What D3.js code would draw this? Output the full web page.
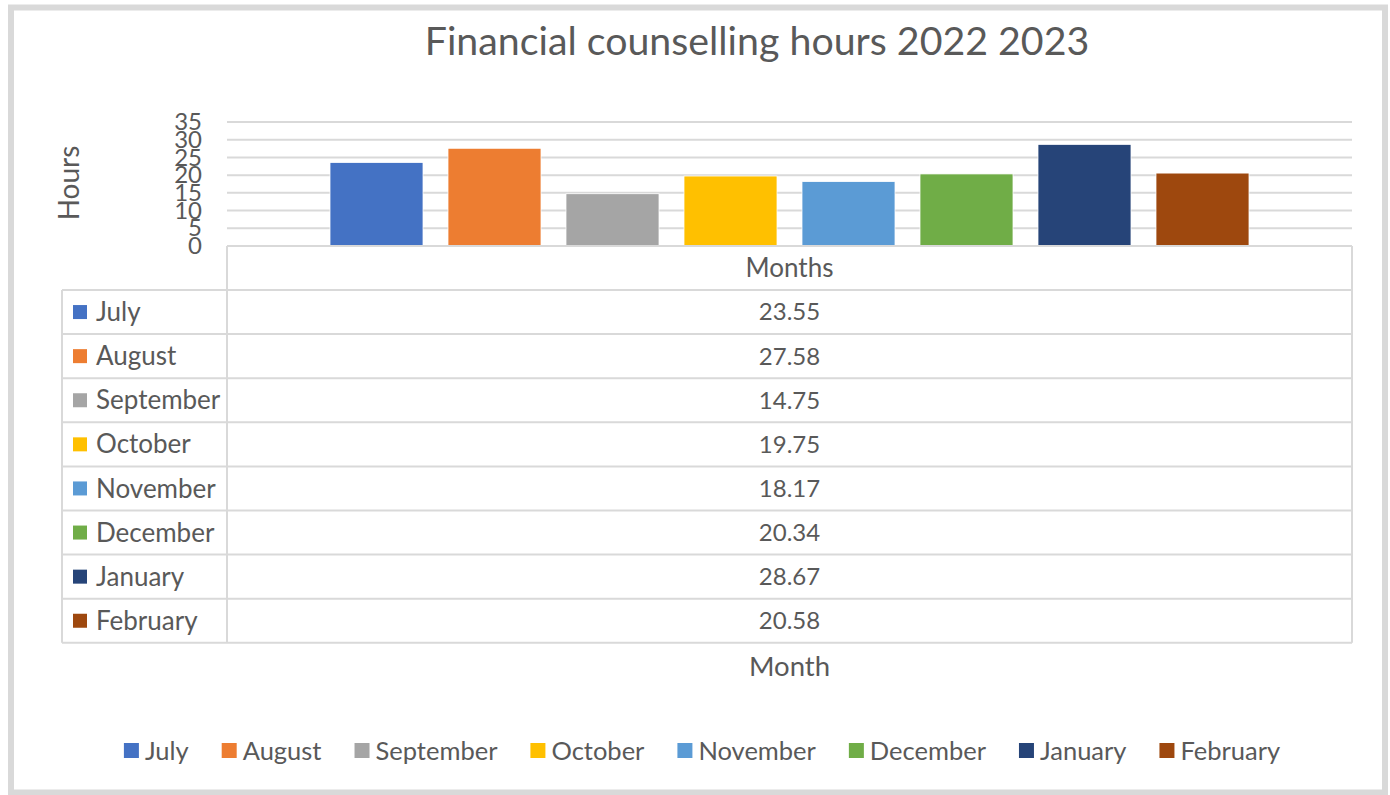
<!DOCTYPE html>
<html>
<head>
<meta charset="utf-8">
<script src="https://cdn.jsdelivr.net/npm/d3@7"></script>
<style>
   body { margin:0; background:#fff; }
   text { font-family: Lato, "Open Sans", sans-serif; fill:#595959; }
</style>
</head>
<body>
<div id="app"></div>
<script>
const months = ["July","August","September","October","November","December","January","February"]
const hours = [23.55,27.58,14.75,19.75,18.17,20.34,28.67,20.58]
const colors = ["#4472C4","#ED7D31","#A5A5A5","#FFC000","#5B9BD5","#70AD47","#264478","#9E480E"]
const y_ticks = [0,5,10,15,20,25,30,35]

const make_plot = (root_node) => {
   let width = 1390
   let height = 795
   let line_color = "#d9d9d9"
   let text_size = 26
   let num_size = 24

   // plot area and table geometry
   let left = 227, right = 1352
   let top = 122, base = 246
   let tab_left = 62
   let head_h = 44
   let row_h = 44.1

   let svg = d3.select(root_node)
      .append("svg")
      .attr("width",width)
      .attr("height",height)
      .attr("viewBox",[0,0,width,height])

   svg.append("rect")
      .attr("x",11).attr("y",7.5)
      .attr("width",1374).attr("height",785)
      .attr("fill","#fff")
      .attr("stroke",line_color)
      .attr("stroke-width",6)

   svg.append("text")
      .attr("x",757).attr("y",55)
      .attr("text-anchor","middle")
      .attr("font-size",39.3)
      .text("Financial counselling hours 2022 2023")

   let x = d3.scaleBand()
      .domain(months)
      .range([left,right])
      .paddingInner(0.212)
      .paddingOuter(0.873)

   let y = d3.scaleLinear()
      .domain([0,35])
      .range([base,top])

   // gridlines
   svg.append("g")
      .selectAll("line")
      .data(y_ticks.filter(d=>d>0))
      .join("line")
      .attr("x1",left).attr("x2",right)
      .attr("y1",d=>y(d)).attr("y2",d=>y(d))
      .attr("stroke",line_color)
      .attr("stroke-width",2)

   let yaxis = svg.append("g")
      .attr("transform",`translate(${left},0)`)
      .call(d3.axisLeft(y).tickValues(y_ticks).tickSize(0).tickPadding(25))
   yaxis.select(".domain").remove()
   yaxis.selectAll("text")
      .attr("font-size",num_size)
      .attr("font-family","Lato")
      .attr("fill","#595959")

   svg.append("text")
      .attr("transform","translate(79,183) rotate(-90)")
      .attr("text-anchor","middle")
      .attr("font-size",28)
      .text("Hours")

   svg.append("g")
      .selectAll("rect")
      .data(hours)
      .join("rect")
      .attr("x",(d,i)=>x(months[i]))
      .attr("y",d=>y(d))
      .attr("width",x.bandwidth())
      .attr("height",d=>y(0)-y(d))
      .attr("fill",(d,i)=>colors[i])
      .attr("stroke","#fff")
      .attr("stroke-width",0.75)

   // data table
   let tab_top = base + head_h
   let tab_bottom = tab_top + row_h*months.length
   let table = svg.append("g")
      .attr("stroke",line_color)
      .attr("stroke-width",2)
      .attr("fill","none")

   table.append("line")
      .attr("x1",left).attr("x2",right)
      .attr("y1",base).attr("y2",base)
   table.selectAll(".hl")
      .data(d3.range(months.length+1))
      .join("line")
      .attr("class","hl")
      .attr("x1",tab_left).attr("x2",right)
      .attr("y1",i=>tab_top+i*row_h).attr("y2",i=>tab_top+i*row_h)
   table.append("line")
      .attr("x1",tab_left).attr("x2",tab_left)
      .attr("y1",tab_top).attr("y2",tab_bottom)
   table.append("line")
      .attr("x1",left).attr("x2",left)
      .attr("y1",base).attr("y2",tab_bottom)
   table.append("line")
      .attr("x1",right).attr("x2",right)
      .attr("y1",base).attr("y2",tab_bottom)

   let mid = (left+right)/2
   svg.append("text")
      .attr("x",mid).attr("y",base+head_h/2)
      .attr("dy","0.35em")
      .attr("text-anchor","middle")
      .attr("font-size",text_size)
      .text("Months")

   let rows = svg.append("g")
      .selectAll("g")
      .data(months)
      .join("g")
      .attr("transform",(d,i)=>`translate(0,${tab_top+i*row_h+row_h/2})`)

   rows.append("rect")
      .attr("x",73).attr("y",-7)
      .attr("width",14).attr("height",14)
      .attr("fill",(d,i)=>colors[i])
   rows.append("text")
      .attr("x",96).attr("dy","0.35em")
      .attr("font-size",text_size)
      .text(d=>d)
   rows.append("text")
      .attr("x",mid).attr("dy","0.35em")
      .attr("text-anchor","middle")
      .attr("font-size",num_size)
      .text((d,i)=>hours[i].toFixed(2))

   svg.append("text")
      .attr("x",mid).attr("y",676)
      .attr("text-anchor","middle")
      .attr("font-size",27.5)
      .text("Month")

   // legend
   let legend = svg.append("g")
   let items = legend.selectAll("g")
      .data(months)
      .join("g")
   items.append("rect")
      .attr("y",-8).attr("width",15).attr("height",15)
      .attr("fill",(d,i)=>colors[i])
   items.append("text")
      .attr("x",21).attr("dy","0.35em")
      .attr("font-size",25.5)
      .text(d=>d)

   let gap = 33
   let widths = items.nodes().map(n=>21+d3.select(n).select("text").node().getComputedTextLength())
   let total = d3.sum(widths) + gap*(widths.length-1)
   let pos = 702 - total/2
   items.attr("transform",(d,i)=>{
      let t = `translate(${pos},751)`
      pos += widths[i] + gap
      return t
   })
}

make_plot("#app")
</script>
</body>
</html>
